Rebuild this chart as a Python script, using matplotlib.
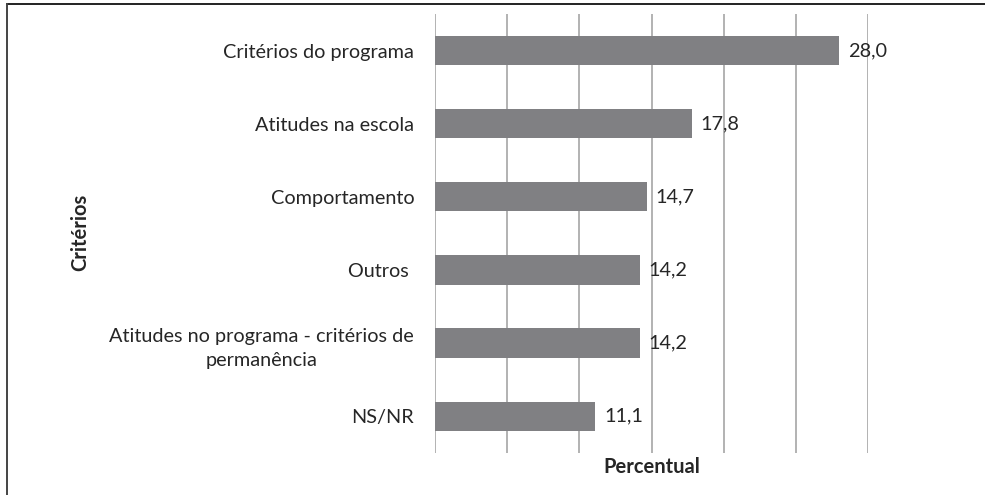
import matplotlib
matplotlib.use("Agg")
from matplotlib import pyplot as plt
from matplotlib.lines import Line2D
import numpy as np

plt.rcParams["font.family"] = ["Lato", "DejaVu Sans"]

categories = [
    "Critérios do programa",
    "Atitudes na escola",
    "Comportamento",
    "Outros ",
    "Atitudes no programa - critérios de\npermanência",
    "NS/NR",
]
values = [28.0, 17.8, 14.7, 14.2, 14.2, 11.1]
value_labels = ["28,0", "17,8", "14,7", "14,2", "14,2", "11,1"]

W, H = 985, 495
fig = plt.figure(figsize=(W / 100, H / 100), dpi=100)
ax = fig.add_axes([435 / W, 1 - 452.7 / H, (868 - 435) / W, (452.7 - 14) / H])

ys = np.arange(len(categories))
ax.barh(ys, values, height=0.4, color="#808083", zorder=3)
ax.set_ylim(len(categories) - 0.5, -0.5)
ax.set_xlim(0, 30)

ax.set_xticks(np.arange(0, 31, 5))
ax.set_xticklabels([])
ax.tick_params(axis="x", length=0)
ax.grid(axis="x", color="#a6a6a6", linewidth=1.2, zorder=0)
for s in ax.spines.values():
    s.set_visible(False)

ax.set_yticks(ys)
ax.set_yticklabels(categories, fontsize=14.3, color="#262626",
                   multialignment="center", linespacing=1.55)
ax.tick_params(axis="y", length=0, pad=15)

for y, v, lab in zip(ys, values, value_labels):
    ax.text(v + 0.6, y, lab, va="center", ha="left", fontsize=14.3, color="#262626")

fig.text(651.5 / W, 1 - 467 / H, "Percentual", ha="center", va="center",
         fontsize=14.5, fontweight="bold", color="#262626")
fig.text(80 / W, 1 - 232 / H, "Critérios", ha="center", va="center", rotation=90,
         fontsize=14.5, fontweight="bold", color="#262626")

# frame (top and left edges only visible)
fig.add_artist(Line2D([7 / W, 1], [1 - 4 / H, 1 - 4 / H], color="#222222", linewidth=1.4,
                      transform=fig.transFigure))
fig.add_artist(Line2D([7 / W, 7 / W], [1 - 4 / H, 0], color="#444444", linewidth=1.4,
                      transform=fig.transFigure))

fig.savefig("out.png", dpi=100)
